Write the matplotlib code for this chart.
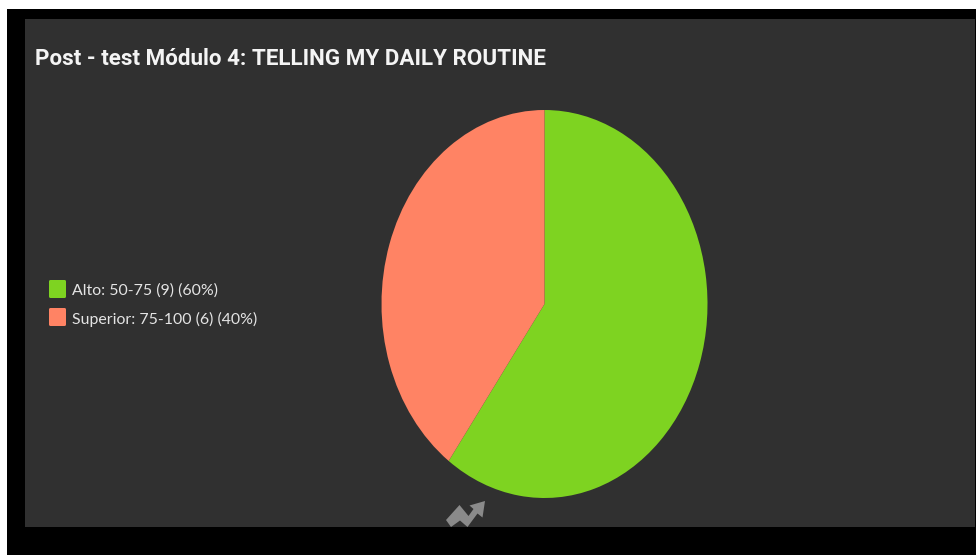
import matplotlib
matplotlib.use("Agg")
import matplotlib.pyplot as plt
from matplotlib.patches import Polygon, Rectangle, FancyBboxPatch

W, H = 976, 555

title = "Post - test Módulo 4: TELLING MY DAILY ROUTINE"
categories = ["Alto: 50-75", "Superior: 75-100"]
counts = [9, 6]
percents = [60, 40]
colors = ["#7ed321", "#ff8364"]

fig = plt.figure(figsize=(W / 100, H / 100), dpi=100, facecolor="white")

# background layer, working in pixels from the top left
bg = fig.add_axes([0, 0, 1, 1])
bg.set_xlim(0, W)
bg.set_ylim(H, 0)
bg.axis("off")
bg.add_patch(Rectangle((7, 9), W - 7, H - 9, fc="black", ec="none"))
bg.add_patch(Rectangle((25, 19), 950, 508, fc="#303030", ec="none"))

bg.text(35, 59, title, color="#f4f4f4", fontsize=16.1, family="Roboto",
        fontweight="bold", va="center", ha="left")

# legend
for i, (cat, n, pct, col) in enumerate(zip(categories, counts, percents, colors)):
    y = 289 + i * 28
    bg.add_patch(FancyBboxPatch((49, y - 9), 17, 18, boxstyle="round,pad=0,rounding_size=1.5",
                                fc=col, ec="none"))
    bg.text(72, y + 2, f"{cat} ({n}) ({pct}%)", color="#e4e4e4", fontsize=11.4,
            family="Lato", va="center", ha="left")

# small arrow logo cut off by the bottom of the panel
logo = [(446, 520), (459.5, 505), (468.5, 516), (473.5, 509), (469.5, 505.5), (485, 501),
        (482.5, 517.5), (477.5, 513.5), (467.5, 527), (460, 520.5), (451, 527)]
bg.add_patch(Polygon(logo, closed=True, fc="#8a8a8a", ec="none"))

# the pie is stretched vertically
left, right, top, bottom = 381.5, 707.5, 110, 498
ax = fig.add_axes([left / W, 1 - bottom / H, (right - left) / W, (bottom - top) / H])
wedges, _ = ax.pie(counts, colors=colors, startangle=90, counterclock=False, radius=1,
                   wedgeprops={"edgecolor": "none"})
ax.set_aspect("auto")
ax.set_xlim(-1, 1)
ax.set_ylim(-1, 1)
ax.patch.set_alpha(0)

# percent labels inside the wedges
bg.text(664, 356.5, f"{percents[0]}%", color="white", fontsize=11.5, family="Lato", ha="center", va="center")
bg.text(424.5, 263, f"{percents[1]}%", color="white", fontsize=11.5, family="Lato", ha="center", va="center")

fig.savefig("out.png", dpi=100, facecolor=fig.get_facecolor())
